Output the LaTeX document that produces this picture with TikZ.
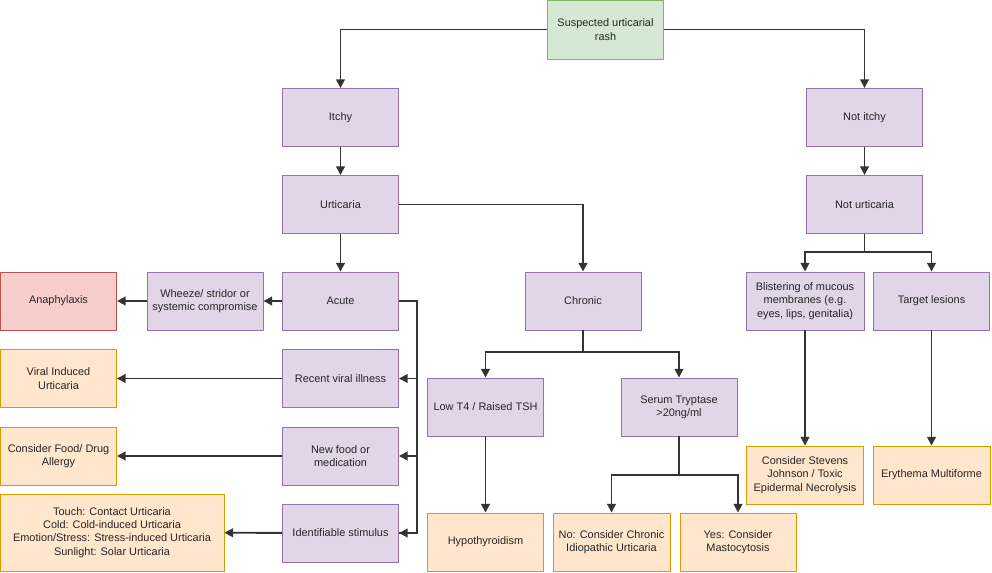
\documentclass[tikz,border=0pt]{standalone}
\usepackage{fontspec}
\setmainfont{Liberation Sans}
\usetikzlibrary{arrows.meta}
\definecolor{pfill}{HTML}{E1D5E7}\definecolor{pdraw}{HTML}{9673A6}
\definecolor{gfill}{HTML}{D5E8D4}\definecolor{gdraw}{HTML}{82B366}
\definecolor{rfill}{HTML}{F8CECC}\definecolor{rdraw}{HTML}{B85450}
\definecolor{ofill}{HTML}{FFE6CC}\definecolor{odraw}{HTML}{D79B00}
\definecolor{lcol}{HTML}{333333}
\begin{document}
\begin{tikzpicture}[x=0.75pt,y=-0.75pt,
  bw/.style={minimum width=#1*0.75pt},
  bh/.style={minimum height=#1*0.75pt},
  basebox/.style={rectangle, inner sep=1pt, align=center, font=\fontsize{8.2}{10}\selectfont, text=black!85, line width=0.7pt, bw=116, bh=58},
  pbox/.style={basebox, fill=pfill, draw=pdraw},
  gbox/.style={basebox, fill=gfill, draw=gdraw},
  rbox/.style={basebox, fill=rfill, draw=rdraw},
  obox/.style={basebox, fill=ofill, draw=odraw},
  conn/.style={draw=lcol, line width=1.4pt, -{Triangle[length=6.5pt,width=6.5pt]}},
  plain/.style={draw=lcol, line width=1.4pt}]
\useasboundingbox (0,0) rectangle (992,573);
\fill[white] (0,0) rectangle (992,573);
% nodes
\node[gbox, bh=59] (root) at (605.5,29.5) {Suspected urticarial\\rash};
\node[pbox] (itchy) at (340.5,117.5) {Itchy};
\node[pbox] (nitchy) at (864.5,117.5) {Not itchy};
\node[pbox] (urt) at (340.5,204.5) {Urticaria};
\node[pbox] (nurt) at (864.5,204.5) {Not urticaria};
\node[rbox] (ana) at (58.5,301) {Anaphylaxis};
\node[pbox] (whz) at (205,301) {Wheeze/ stridor or\\systemic compromise};
\node[pbox] (acute) at (340.5,301) {Acute};
\node[pbox] (chronic) at (583,301) {Chronic};
\node[pbox, bw=118] (blis) at (805,301) {Blistering of mucous\\membranes (e.g.\\eyes, lips, genitalia)};
\node[pbox] (target) at (931.5,301) {Target lesions};
\node[obox] (viral) at (58.5,378.5) {Viral Induced\\Urticaria};
\node[pbox] (recent) at (340.5,378.5) {Recent viral illness};
\node[pbox] (lowt4) at (485.5,407) {Low T4 / Raised TSH};
\node[pbox] (serum) at (679,407) {Serum Tryptase\\>20ng/ml};
\node[obox] (food) at (58.5,456) {Consider Food/ Drug\\Allergy};
\node[pbox] (newfood) at (340.5,456) {New food or\\medication};
\node[obox, bw=117] (sjs) at (805,475) {Consider Stevens\\Johnson / Toxic\\Epidermal Necrolysis};
\node[obox, bw=117] (ery) at (931.5,475) {Erythema Multiforme};
\node[obox, bw=224, bh=77] (touch) at (112,532.5) {Touch: Contact Urticaria\\Cold: Cold-induced Urticaria\\Emotion/Stress: Stress-induced Urticaria\\Sunlight: Solar Urticaria};
\node[pbox] (ident) at (340.5,533) {Identifiable stimulus};
\node[obox] (hypo) at (485.5,542) {Hypothyroidism};
\node[obox, bw=117] (no) at (611.5,542) {No: Consider Chronic\\Idiopathic Urticaria};
\node[obox] (yes) at (738,542) {Yes: Consider\\Mastocytosis};
% junction coordinates
\coordinate (jAcute) at (417,301);
\coordinate (jChr) at (583,352);
\coordinate (jSer) at (679,475);
\coordinate (jNurt) at (864.5,252);
% connectors
\draw[conn] (root.west) -| (itchy.north);
\draw[conn] (root.east) -| (nitchy.north);
\draw[conn] (itchy) -- (urt);
\draw[conn] (nitchy) -- (nurt);
\draw[conn] (urt) -- (acute);
\draw[conn] (urt.east) -| (chronic.north);
\draw[conn] (acute) -- (whz);
\draw[conn] (whz) -- (ana);
\draw[plain] (acute.east) -- (jAcute) |- (ident.east);
\draw[conn] (jAcute) |- (recent.east);
\draw[conn] (jAcute) |- (newfood.east);
\draw[conn] (jAcute) |- (ident.east);
\draw[conn] (recent) -- (viral);
\draw[conn] (newfood) -- (food);
\draw[conn] (ident) -- (touch);
\draw[plain] (chronic.south) -- (jChr);
\draw[conn] (jChr) -| (lowt4.north);
\draw[conn] (jChr) -| (serum.north);
\draw[conn] (lowt4) -- (hypo);
\draw[plain] (serum.south) -- (jSer);
\draw[conn] (jSer) -| (no.north);
\draw[conn] (jSer) -| (yes.north);
\draw[plain] (nurt.south) -- (jNurt);
\draw[conn] (jNurt) -| (blis.north);
\draw[conn] (jNurt) -| (target.north);
\draw[conn] (blis) -- (sjs);
\draw[conn] (target) -- (ery);
\end{tikzpicture}
\end{document}
